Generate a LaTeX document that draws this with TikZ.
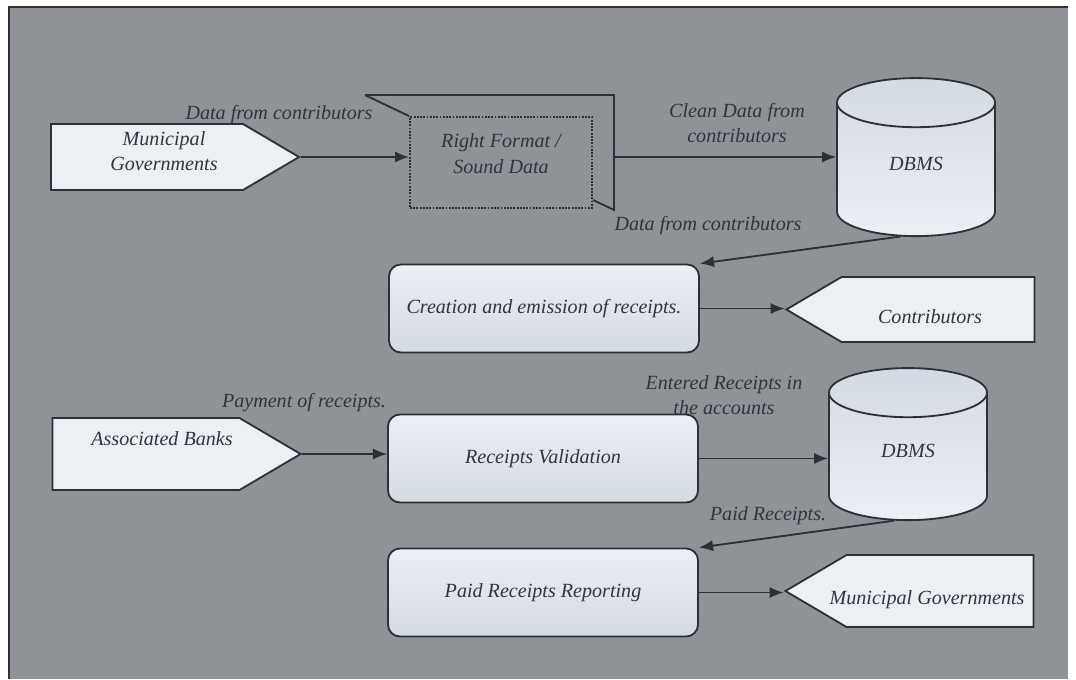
\documentclass[tikz,border=0pt]{standalone}
\usepackage{fontspec}
\setmainfont{Liberation Serif}
\usetikzlibrary{arrows.meta,shapes.geometric,shapes.symbols,calc}

\definecolor{panel}{RGB}{142,147,152}
\definecolor{boxlight}{RGB}{236,239,244}
\definecolor{boxdark}{RGB}{212,218,227}
\definecolor{inkline}{RGB}{45,48,55}
\definecolor{inktext}{RGB}{50,53,60}

\tikzset{
    every node/.style={font=\fontsize{14.3}{18}\selectfont\itshape, text=inktext},
    proc/.style={draw=inkline, line width=1.3pt, rounded corners=0.3cm, top color=boxlight, bottom color=boxdark,
        minimum width=7.75cm, minimum height=2.2cm},
    ext/.style={signal, signal from=nowhere, draw=inkline, line width=1.3pt, fill=boxlight,
        signal pointer angle=61, minimum width=6.2cm, minimum height=1.8cm, inner sep=0pt},
    store/.style={cylinder, shape border rotate=90, aspect=0.78, draw=inkline, line width=1.3pt,
        top color=boxdark, bottom color=boxlight, minimum width=3.95cm, minimum height=3.95cm,
        text depth=0.5cm},
    flow/.style={draw=inkline, line width=1.3pt, -{Latex[length=10pt,width=8pt]}},
    lbl/.style={align=center}
}

\begin{document}
\begin{tikzpicture}[x=0.025cm, y=-0.025cm]
        \useasboundingbox (0,0) rectangle (1076,679);
        \fill[panel] (9,7) rectangle (1068,679);
        \draw[inkline, thick] (9,679) -- (9,7) -- (1068,7);

        \node[ext, signal to=east, minimum height=1.65cm,
              label={[align=center, xshift=0.425cm, yshift=0.15cm]center:Municipal\\Governments}](mg1) at (147,157) {};
        \node[draw=inkline, line width=1.3pt, densely dotted, minimum width=4.55cm, minimum height=2.275cm,
              label={[align=center, yshift=0.225cm]center:Right Format /\\Sound Data}](rf) at (501,162.5) {};
        \node[store](db1) at (916,174) {DBMS};
        \node[proc](cr) at (544,308.5) {Creation and emission of receipts.};
        \node[ext, signal to=west, minimum height=1.625cm,
              label={[xshift=-0.2cm, yshift=-0.175cm]center:Contributors}](ctb) at (938,309.5) {};
        \node[ext, signal to=east,
              label={[xshift=0.4cm, yshift=0.375cm]center:Associated Banks}](ab) at (146,454) {};
        \node[proc](rv) at (543,458.5) {Receipts Validation};
        \node[store, minimum height=3.8cm](db2) at (908,461) {DBMS};
        \node[proc](pr) at (543,592.5) {Paid Receipts Reporting};
        \node[ext, signal to=west,
              label={[xshift=-0.325cm, yshift=-0.225cm]center:Municipal Governments}](mg2) at (940,591) {};

        % manual check outline round the dotted box
        \draw[inkline, line width=1.3pt] ($(rf.north west)+(-44,-21)$) -- (rf.north west);
        \draw[inkline, line width=1.3pt] ($(rf.north west)+(-44,-21)$) -- ($(rf.north east)+(21,-21)$)
            -- ($(rf.south east)+(21,1)$) -- ($(rf.south east)+(0,-9)$);
        \coordinate (rfr) at ($(rf.east)+(21,-5.5)$);

        % flow labels
        \node[lbl](l1) at (279,115) {Data from contributors};
        \node[lbl](l2) at (737,123) {Clean Data from\\contributors};
        \node[lbl](l3) at (708,226) {Data from contributors};
        \node[lbl](l4) at (304,403) {Payment of receipts.};
        \node[lbl](l5) at (724,395) {Entered Receipts in\\the accounts};
        \node[lbl](l6) at (768,516) {Paid Receipts.};

        \path
            (mg1.east) edge [flow] (mg1.east -| rf.west)
            (rfr)      edge [flow] (rfr -| db1.180)
            (db1.256)  edge [flow] (cr.north east)
            (cr.east)  edge [flow] (cr.east -| ctb.west)
            (ab.east)  edge [flow] (ab.east -| rv.west)
            (rv.east)  edge [flow] (rv.east -| db2.180)
            (db2.257)  edge [flow] (pr.north east)
            (pr.east)  edge [flow] (pr.east -| mg2.west)
            ;
    \end{tikzpicture}
\end{document}
